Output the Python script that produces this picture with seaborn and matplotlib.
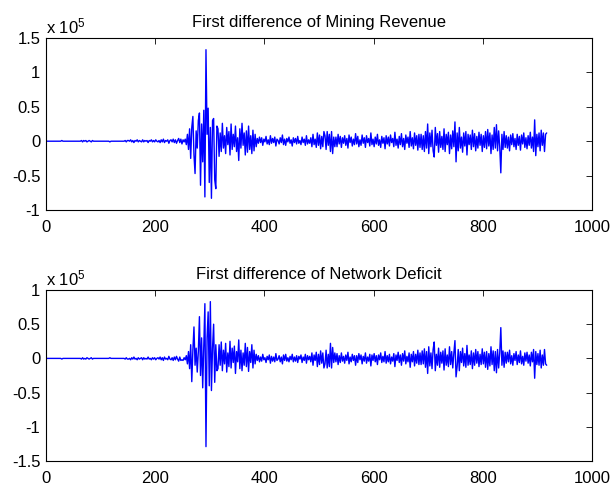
import numpy as np
import matplotlib
matplotlib.use("Agg")
import matplotlib.pyplot as plt
from matplotlib.ticker import FuncFormatter, MultipleLocator
import seaborn as sns

# First differences, in thousands, sampled every second period (1, 3, 5, ...)
mining_diff_k = [
    # 1-149
    0, 0, 0, 0, 0, 0, 0, 0, 0, 0,
    0, 0, 0, 0, 1, 0, 0, 0, 0, 0,
    0, 0, 0, 0, 0, 0, 0, 0, 0, 0,
    0, 0, 1, -1, 1, 0, 1, -1, 0, 1,
    0, -1, 1, 0, 0, 0, 0, 0, 0, 0,
    0, 0, 0, 0, 0, 0, 0, 0, -1, 0,
    0, 0, 0, 0, 0, 0, 0, 0, 0, 0,
    0, 0, 1, -1, 1,
    # 151-253
    1, 0, 2, -1, 1, -2, 1, 0, 2, -1,
    1, 0, -1, 2, -1, 1, 0, 1, -2, 1,
    0, 2, -1, 1, -1, 2, 0, -1, 1, -2,
    2, -1, 3, -2, 1, 0, 2, -3, 1, 2,
    -1, 3, -2, 2, -3, 1, 4, -2, 3, -4,
    2, -1,
    # 255-313
    3, -5, 10, -12, 18, -25, 20, 36, -20, -47,
    15, -10, 30, 41, -64, 25, -30, 45, -81, 133,
    10, 48, -60, 20, -83, 30, 33, -56, -69, 22,
    # 315-385
    18, -22, 12, -15, 26, -10, 8, -18, 20, -5,
    14, -20, 25, -12, 10, -8, 22, -15, 5, -28,
    18, -10, 26, -6, 12, -20, 15, -16, 22, -12,
    8, -18, 16, -14, 10, -8,
    # 387-509
    4, -3, 6, -2, 5, -6, 3, -1, 7, -4,
    2, -5, 8, -3, 4, -2, 6, -7, 3, 1,
    -4, 5, -2, 9, -5, 3, -6, 4, -1, 6,
    -3, 2, -7, 5, -2, 4, -4, 7, -3, 1,
    -5, 6, -2, 3, -6, 8, -4, 2, -3, 5,
    -8, 10, -5, 3, -9, 12, -6, 9, -11, 7,
    -8, 14,
    # 511-529
    8, -12, 14, -6, 10, -15, 14, -18, 6, -8,
    # 531-685
    6, -8, 10, -4, 7, -9, 5, -3, 8, -6,
    4, -10, 9, -2, 6, -7, 3, -5, 11, -4,
    7, -8, 2, -6, 9, -3, 5, -9, 8, -2,
    4, -7, 12, -5, 3, -8, 6, -4, 10, -6,
    2, -9, 7, -3, 5, -11, 8, -4, 6, -7,
    9, -2, 4, -8, 13, -6, 3, -10, 7, -5,
    11, -8, 4, -12, 9, -3, 6, -9, 14, -7,
    5, -11, 12, -6, 8, -13, 10, -9,
    # 687-841
    10, -12, 8, -15, 14, -10, 25, -18, 12, -8,
    16, -14, -23, 20, -6, 11, -16, 14, -9, 7,
    -12, 18, -15, 10, -5, 13, -18, 9, -11, 15,
    -8, 28, -30, 12, -14, 20, -10, 6, -16, 12,
    -7, 14, -20, 10, -5, 9, -12, 16, -8, 11,
    -14, 7, -10, 13, -6, 10, -15, 8, -9, 14,
    -11, 17, -7, 12, -18, 9, -12, 20, -10, 24,
    -14, 15, -8, -46, 10, -12, 14, -9,
    # 843-917
    8, -10, 6, -14, 9, -5, 11, -8, 4, -12,
    10, -6, 7, -13, 9, -4, 12, -9, 5, -11,
    8, -6, 13, -10, 6, -15, 31, -21, 10, -8,
    12, -14, 16, -6, 12, -15, 10, 12,
]

deficit_diff_k = [
    # 1-149
    0, 0, 0, 0, 0, 0, 0, 0, 0, 0,
    0, 0, 0, 0, -1, 0, 0, 0, 0, 0,
    0, 0, 0, 0, 0, 0, 0, 0, 0, 0,
    0, 0, -1, 1, -1, 0, -1, 1, 0, -1,
    0, 1, -1, 0, 0, 0, 0, 0, 0, 0,
    0, 0, 0, 0, 0, 0, 0, 0, 1, 0,
    0, 0, 0, 0, 0, 0, 0, 0, 0, 0,
    0, 0, -1, 1, -1,
    # 151-253
    -1, 0, -2, 1, -1, 2, -1, 0, -2, 1,
    -1, 0, 1, -2, 1, -1, 0, -1, 2, -1,
    0, -2, 1, -1, 1, -2, 0, 1, -1, 2,
    -2, 1, -3, 2, -1, 0, -2, 3, -1, -2,
    1, -3, 2, -2, 3, -1, -4, 2, -3, -2,
    -3, 1,
    # 255-313
    -2, 4, -8, 10, -15, 20, -34, 12, 46, -10,
    15, -20, 10, 61, -25, 30, -43, 20, 80, -129,
    30, 68, -40, 83, -47, 15, 50, -35, 20, -18,
    # 315-385
    -15, 20, -10, 24, -18, 12, -8, 22, -20, 8,
    -12, 25, -14, 15, -6, 18, -22, 10, -5, 27,
    -15, 12, -18, 8, -10, 22, -12, 16, -19, 10,
    -6, 20, -14, 12, -8, 6,
    # 387-509
    -3, 4, -5, 2, -4, 6, -2, 1, -6, 3,
    -2, 5, -7, 3, -4, 2, -5, 7, -3, -1,
    4, -5, 2, -8, 5, -3, 6, -4, 1, -5,
    3, -2, 6, -5, 2, -4, 4, -6, 3, -1,
    5, -6, 2, -3, 6, -7, 4, -2, 3, -5,
    8, -10, 5, -3, 9, -12, 6, -9, 11, -7,
    8, -14,
    # 511-529
    -8, 12, -14, 6, -12, 22, -14, 16, -6, 8,
    # 531-685
    -5, 7, -9, 4, -6, 8, -4, 3, -7, 5,
    -3, 9, -8, 2, -5, 6, -3, 4, -10, 4,
    -6, 7, -2, 5, -8, 3, -4, 8, -7, 2,
    -4, 6, -11, 5, -3, 7, -5, 4, -9, 5,
    -2, 8, -6, 3, -5, 10, -7, 4, -5, 6,
    -8, 2, -4, 7, -12, 5, -3, 9, -6, 5,
    -10, 7, -4, 11, -8, 3, -5, 8, -13, 6,
    -5, 10, -11, 6, -7, 12, -9, 8,
    # 687-841
    -9, 11, -8, 14, -13, 10, -22, 17, -11, 8,
    -15, 13, 24, -18, 6, -10, 15, -13, 9, -7,
    11, -17, 14, -10, 5, -12, 17, -9, 10, -14,
    8, 26, -27, -12, 13, -18, 10, -6, 15, -11,
    7, -13, 19, -10, 5, -9, 11, -15, 8, -10,
    13, -7, 10, -12, 6, -9, 14, -8, 9, -13,
    10, -16, 7, -11, 17, -9, 11, -18, 10, -21,
    13, -14, 8, 45, -10, 11, -13, 9,
    # 843-917
    -7, 9, -5, 12, -8, 4, -10, 7, -3, 10,
    -9, 5, -6, 11, -8, 3, -10, 8, -4, 9,
    -7, 5, -11, 9, -5, 13, -29, 10, -9, 7,
    -10, 12, -14, 5, -10, 13, -8, -10,
]

titles = ["First difference of Mining Revenue", "First difference of Network Deficit"]
y_limits = [(-1.0e5, 1.5e5), (-1.5e5, 1.0e5)]
x_ticks = [0, 200, 400, 600, 800, 1000]

sns.set_style("white")
plt.rcParams["font.family"] = ["Liberation Sans", "DejaVu Sans"]
plt.rcParams["text.color"] = "black"
plt.rcParams["axes.labelcolor"] = "black"
plt.rcParams["mathtext.fontset"] = "custom"
plt.rcParams["mathtext.rm"] = "Liberation Sans"
plt.rcParams["mathtext.it"] = "Liberation Sans:italic"

fig = plt.figure(figsize=(6.10, 4.86), dpi=100)
fig.patch.set_facecolor("white")

W, H = 610.0, 486.0
boxes = [
    [46 / W, (H - 210) / H, 546 / W, 172 / H],
    [46 / W, (H - 461) / H, 546 / W, 171 / H],
]

series = [mining_diff_k, deficit_diff_k]

for box, vals_k, title, ylim in zip(boxes, series, titles, y_limits):
    ax = fig.add_axes(box)
    vals = np.asarray(vals_k, dtype=float) * 1000.0
    t = np.arange(len(vals)) * 2 + 1
    sns.lineplot(x=t, y=vals, ax=ax, color="#0000ff", linewidth=1.0,
                 errorbar=None, estimator=None)
    ax.set_xlim(0, 1000)
    ax.set_ylim(*ylim)
    ax.set_xticks(x_ticks)
    ax.yaxis.set_major_locator(MultipleLocator(0.5e5))
    ax.yaxis.set_major_formatter(FuncFormatter(lambda v, p: "%g" % (v / 1e5)))
    ax.set_xlabel("")
    ax.set_ylabel("")
    for s in ax.spines.values():
        s.set_visible(True)
        s.set_color("black")
        s.set_linewidth(0.8)
    ax.tick_params(direction="in", length=4, width=0.6, colors="black",
                   labelcolor="black", labelsize=12, top=True, right=True, pad=4)
    ax.tick_params(axis="x", pad=7)
    ax.set_title(title, fontsize=12, pad=8, color="black")
    ax.text(0.0, 1.01, r"x 10$^{5}$", transform=ax.transAxes,
            ha="left", va="bottom", fontsize=12, color="black")
    ax.set_facecolor("white")

fig.savefig("out.png", dpi=100, facecolor="white")
